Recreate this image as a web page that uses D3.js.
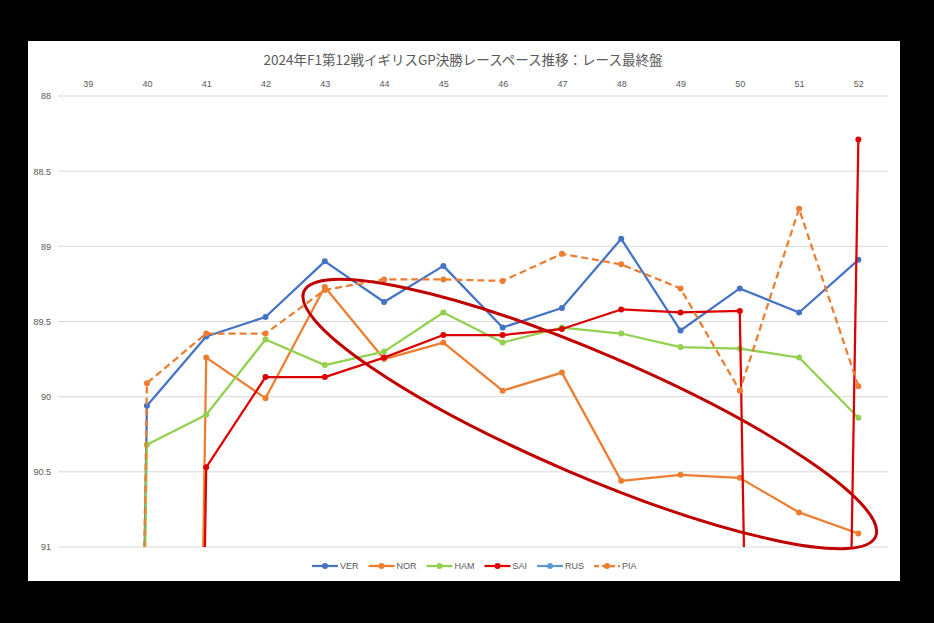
<!DOCTYPE html>
<html><head><meta charset="utf-8">
<script src="https://cdn.jsdelivr.net/npm/d3@7"></script>
<style>
html,body{margin:0;padding:0;background:#000;}
svg{display:block;}
</style></head>
<body>
<svg id="chart" width="934" height="623"></svg>
<script>
const title = "2024年F1第12戦イギリスGP決勝レースペース推移：レース最終盤";
const laps = [39,40,41,42,43,44,45,46,47,48,49,50,51,52];
const yTicks = [88, 88.5, 89, 89.5, 90, 90.5, 91];
const drivers = ["VER","NOR","HAM","SAI","RUS","PIA"];
// lap times (sec, minus 1 minute); values > 91 are pit laps, off the axis
const VER = [115, 90.06, 89.60, 89.47, 89.10, 89.37, 89.13, 89.54, 89.41, 88.95, 89.56, 89.28, 89.44, 89.09];
const NOR = [null, 115, 89.74, 90.01, 89.27, 89.75, 89.64, 89.96, 89.84, 90.56, 90.52, 90.54, 90.77, 90.91];
const HAM = [115, 90.32, 90.12, 89.62, 89.79, 89.70, 89.44, 89.64, 89.54, 89.58, 89.67, 89.68, 89.74, 90.14];
const SAI = [null, 115, 90.47, 89.87, 89.87, 89.74, 89.59, 89.59, 89.55, 89.42, 89.44, 89.43, 112, 88.29];
const RUS = [null, null, null, null, null, null, null, null, null, null, null, null, null, null];
const PIA = [115, 89.91, 89.58, 89.58, 89.29, 89.22, 89.22, 89.23, 89.05, 89.12, 89.28, 89.96, 88.75, 89.93];
const seriesValues = {VER, NOR, HAM, SAI, RUS, PIA};
const colors = {VER:"#4472C4", NOR:"#ED7D31", HAM:"#92D050", SAI:"#DD0000", RUS:"#5B9BD5", PIA:"#ED7D31"};
const dashed = {PIA:true};
// annotation ellipse (in data units for its centre)
const ellipseCenter = {lap: 47.47, value: 90.115};

const svg = d3.select("#chart");
svg.append("rect").attr("x",28).attr("y",41).attr("width",872).attr("height",540).attr("fill","#fff");

const x = d3.scalePoint().domain(laps).range([58, 888]).padding(0.5);
const y = d3.scaleLinear().domain([88, 91]).range([96, 547]);

svg.append("text").attr("x",463).attr("y",65).attr("text-anchor","middle")
  .attr("font-family","'Noto Sans CJK JP', 'Noto Sans', sans-serif").attr("font-size",13.5)
  .attr("fill","#595959").text(title);

// gridlines
svg.append("g").selectAll("line").data(yTicks).join("line")
  .attr("x1",58).attr("x2",888).attr("y1",d=>y(d)).attr("y2",d=>y(d))
  .attr("stroke","#D9D9D9").attr("stroke-width",1);

// y axis labels
const yAxis = d3.axisLeft(y).tickValues(yTicks).tickSize(0).tickPadding(0).tickFormat(d=>d3.format("")(d));
const gy = svg.append("g").attr("transform","translate(51,0)").call(yAxis);
gy.select(".domain").remove();
gy.selectAll("text").attr("font-family","'Liberation Sans', Arial, sans-serif").attr("font-size",9).attr("fill","#595959");

// x axis labels at top
const xAxis = d3.axisTop(x).tickSize(0).tickPadding(0);
const gx = svg.append("g").attr("transform","translate(0,87)").call(xAxis);
gx.select(".domain").remove();
gx.selectAll("text").attr("font-family","'Liberation Sans', Arial, sans-serif").attr("font-size",9).attr("fill","#595959");

svg.append("clipPath").attr("id","plotclip").append("rect")
  .attr("x",58).attr("y",90).attr("width",830).attr("height",547-90);

const plot = svg.append("g").attr("clip-path","url(#plotclip)");
const line = d3.line().defined(d=>d.v!=null).x(d=>x(d.lap)).y(d=>y(d.v));

drivers.forEach(name=>{
  const pts = laps.map((lap,i)=>({lap, v: seriesValues[name][i]}));
  plot.append("path").datum(pts).attr("d",line).attr("fill","none")
    .attr("stroke",colors[name]).attr("stroke-width",2.25)
    .attr("stroke-linejoin","round")
    .attr("stroke-dasharray", dashed[name] ? "7,4" : null);
  plot.append("g").selectAll("circle").data(pts.filter(d=>d.v!=null)).join("circle")
    .attr("cx",d=>x(d.lap)).attr("cy",d=>y(d.v)).attr("r",3).attr("fill",colors[name]);
});

// annotation ellipse
svg.append("ellipse")
  .attr("transform",`translate(${x(39) + (ellipseCenter.lap-39)*x.step()},${y(ellipseCenter.value)}) rotate(23.2)`)
  .attr("rx",311).attr("ry",61).attr("fill","none").attr("stroke","#C00000").attr("stroke-width",3);

// legend
const lg = svg.append("g").attr("transform","translate(312,566)");
let lx = 0;
drivers.forEach(name=>{
  const g = lg.append("g").attr("transform",`translate(${lx},0)`);
  g.append("line").attr("x1",0).attr("x2",26).attr("y1",0).attr("y2",0)
    .attr("stroke",colors[name]).attr("stroke-width",2.25)
    .attr("stroke-dasharray", dashed[name] ? "5,3" : null);
  g.append("circle").attr("cx",13).attr("cy",0).attr("r",3).attr("fill",colors[name]);
  const t = g.append("text").attr("x",28).attr("y",3.2).attr("font-family","'Liberation Sans Narrow', 'Liberation Sans', Arial, sans-serif")
    .attr("font-size",9).attr("fill","#595959").text(name);
  lx += 28 + t.node().getComputedTextLength() + 10;
});
</script>
</body></html>
